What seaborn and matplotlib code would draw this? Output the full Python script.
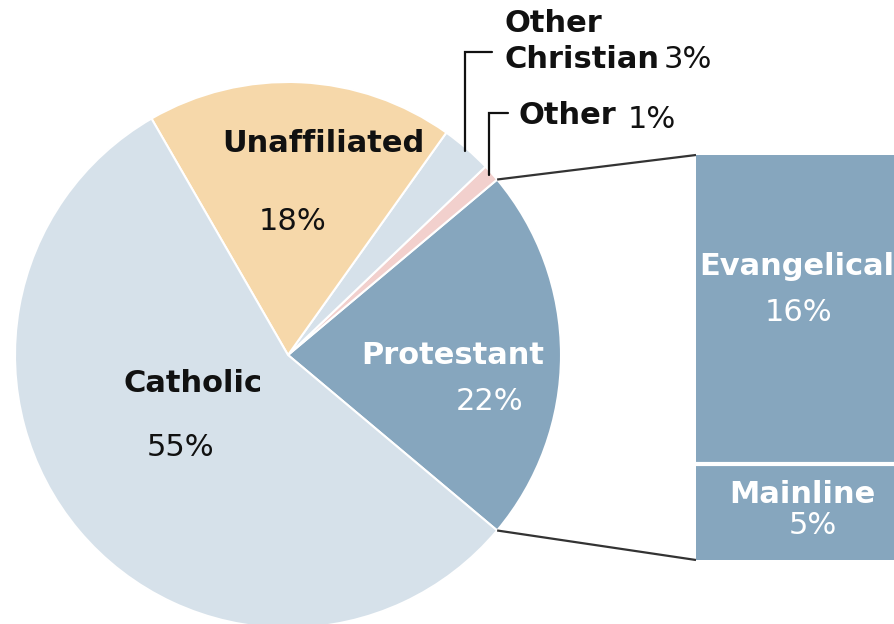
import matplotlib
matplotlib.use("Agg")
import matplotlib.pyplot as plt
import numpy as np
import seaborn as sns

# ---------- data ----------
groups = ["Protestant", "Other", "Other Christian", "Unaffiliated", "Catholic"]
shares = [22, 1, 3, 18, 55]
pie_colors = ["#86A6BE", "#F2D0CD", "#D6E1EA", "#F6D8AA", "#D6E1EA"]

sub_groups = ["Mainline", "Evangelical"]
sub_shares = [5, 16]
bar_color = "#86A6BE"

sns.set_theme(style="white")
plt.rcParams["font.family"] = ["DejaVu Sans"]

W, H = 895, 624
fig = plt.figure(figsize=(W / 100, H / 100), dpi=100)
ax = fig.add_axes([0, 0, 1, 1])


def py(y_px):
    # pixel row (from top) -> data y on the full-figure axes
    return H - y_px


# ---------- pie ----------
cx, cy, r = 288, py(355), 273
start = -shares[0] / sum(shares) * 180
wedges, _ = ax.pie(shares, colors=pie_colors, startangle=start,
                   center=(cx, cy), radius=r,
                   wedgeprops=dict(edgecolor="white", linewidth=1.5))
ax.set_xlim(0, W)
ax.set_ylim(0, H)
ax.set_aspect("equal")
ax.axis("off")

# ---------- Protestant breakdown bar ----------
bax = fig.add_axes([696 / W, (H - 560) / H, (W - 694) / W, 405 / H])
sns.barplot(x=[""], y=[sub_shares[0]], color=bar_color, saturation=1,
            width=1, linewidth=0, ax=bax)
sns.barplot(x=[""], y=[sub_shares[1]], bottom=sub_shares[0], color=bar_color,
            saturation=1, width=1, linewidth=0, ax=bax)
bax.axhline(sub_shares[0], color="white", lw=3)
bax.set_xlim(-0.5, 0.5)
bax.set_ylim(0, sum(sub_shares))
bax.axis("off")

fs_b = 22
fs_n = 22
txt_dark = "#111111"
ev, ml = sub_shares[1], sub_shares[0]
bax.text(0, ml + ev * 0.64, sub_groups[1], ha="center", va="center",
         fontsize=fs_b, fontweight="bold", color="white")
bax.text(0.01, ml + ev * 0.49, f"{ev}%", ha="center", va="center",
         fontsize=fs_n, color="white")
bax.text(0.03, ml * 0.68, sub_groups[0], ha="center", va="center",
         fontsize=fs_b, fontweight="bold", color="white")
bax.text(0.08, ml * 0.36, f"{ml}%", ha="center", va="center",
         fontsize=fs_n, color="white")

# connector lines from Protestant wedge to bar
bb = bax.get_position()
w0 = wedges[0]
for theta, yb in [(w0.theta2, bb.y1 * H), (w0.theta1, bb.y0 * H)]:
    x0 = cx + r * np.cos(np.radians(theta))
    y0 = cy + r * np.sin(np.radians(theta))
    ax.plot([x0, bb.x0 * W], [y0, yb], color="#333333", lw=1.6,
            solid_capstyle="butt")

# ---------- wedge labels ----------
ax.text(323, py(143), groups[3], ha="center", va="center",
        fontsize=fs_b, fontweight="bold", color=txt_dark)
ax.text(293, py(222), f"{shares[3]}%", ha="center", va="center",
        fontsize=fs_n, color=txt_dark)
ax.text(193, py(383), groups[4], ha="center", va="center",
        fontsize=fs_b, fontweight="bold", color=txt_dark)
ax.text(181, py(447), f"{shares[4]}%", ha="center", va="center",
        fontsize=fs_n, color=txt_dark)
ax.text(453, py(355), groups[0], ha="center", va="center",
        fontsize=fs_b, fontweight="bold", color="white")
ax.text(490, py(402), f"{shares[0]}%", ha="center", va="center",
        fontsize=fs_n, color="white")

# small slices with leader lines
for w, elbow_y, end_x in [(wedges[2], 52, 492), (wedges[1], 113, 508)]:
    mid = np.radians((w.theta1 + w.theta2) / 2)
    sx = cx + r * 0.99 * np.cos(mid)
    sy = cy + r * 0.99 * np.sin(mid)
    ax.plot([sx, sx, end_x], [sy, py(elbow_y), py(elbow_y)],
            color="#111111", lw=1.6, solid_joinstyle="miter")

ax.text(505, py(24), "Other", ha="left", va="center",
        fontsize=fs_b, fontweight="bold", color=txt_dark)
ax.text(505, py(60), "Christian", ha="left", va="center",
        fontsize=fs_b, fontweight="bold", color=txt_dark)
ax.text(664, py(60), f"{shares[2]}%", ha="left", va="center",
        fontsize=fs_n, color=txt_dark)
ax.text(519, py(115), groups[1], ha="left", va="center",
        fontsize=fs_b, fontweight="bold", color=txt_dark)
ax.text(628, py(120), f"{shares[1]}%", ha="left", va="center",
        fontsize=fs_n, color=txt_dark)

fig.savefig("out.png", dpi=100)
